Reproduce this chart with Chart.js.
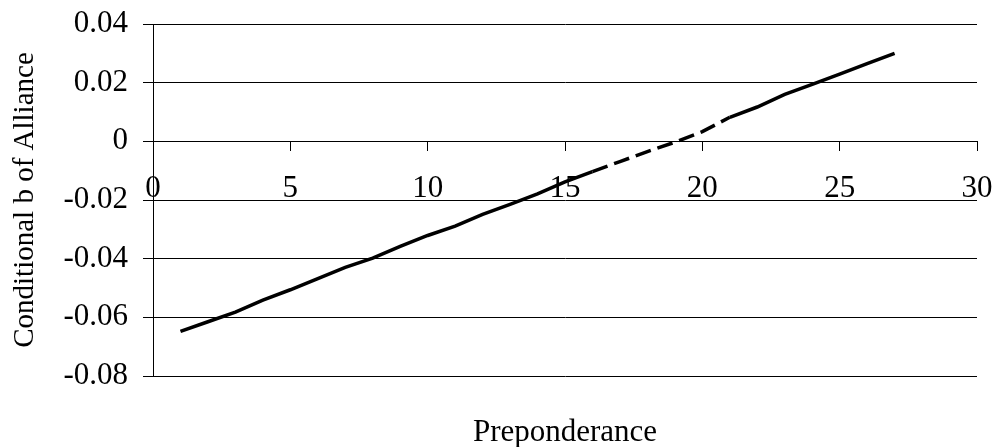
<!DOCTYPE html>
<html>
<head>
<meta charset="utf-8">
<script src="https://cdn.jsdelivr.net/npm/chart.js@4"></script>
<style>
  html, body { margin: 0; padding: 0; background: #fff; }
  #wrap { width: 996px; height: 447px; }
</style>
</head>
<body>
<div id="wrap"><canvas id="prepChart" width="996" height="447"></canvas></div>
<script>
// values
const preponderance = [1, 2, 3, 4, 5, 6, 7, 8, 9, 10, 11, 12, 13, 14, 15, 16, 17, 18, 19, 20, 21, 22, 23, 24, 25, 26, 27];
const condB = [-0.0648, -0.0615, -0.0582, -0.0541, -0.0506, -0.0468, -0.0430, -0.0398, -0.0358, -0.0321, -0.0289, -0.0249,
               -0.0215, -0.0179, -0.0138, -0.0103, -0.0069, -0.0035, -0.0003, 0.0033, 0.0082, 0.0117, 0.0160, 0.0194,
               0.0229, 0.0265, 0.0300];
const dashFrom = 16, dashTo = 21;   // gap segment drawn dashed
const xMin = 0, xMax = 30, xStep = 5;
const yMin = -0.08, yMax = 0.04, yStep = 0.02;

const serif = '"Liberation Serif", "Times New Roman", serif';
const pts = preponderance.map((x, i) => ({ x: x, y: condB[i] }));

function fmtY(v){
    return String(Number(v.toFixed(2)));
}

// keep label overhang from pushing the plot area around
function noPad(s){
    s.paddingTop = 0; s.paddingBottom = 0; s.paddingLeft = 0; s.paddingRight = 0;
}

new Chart(document.getElementById("prepChart").getContext("2d"), {
    type: "line",
    data: { datasets: [{
        data: pts,
        borderColor: "#000",
        borderWidth: 3.5,
        pointRadius: 0,
        tension: 0,
        fill: false,
        segment: {
            borderDash: ctx => (ctx.p0.parsed.x >= dashFrom && ctx.p1.parsed.x <= dashTo) ? [16, 7] : undefined
        }
    }]},
    options: {
        responsive: false,
        animation: false,
        layout: { padding: { top: 24, right: 19, bottom: 0, left: 0 } },
        plugins: { legend: { display: false }, tooltip: { enabled: false } },
        scales: {
            x: {
                type: "linear", position: "bottom", min: xMin, max: xMax,
                grid: { display: false }, border: { display: false },
                ticks: { display: false },
                title: { display: true, text: "Preponderance", color: "#000",
                         font: { family: serif, size: 31, lineHeight: 0.9 }, padding: { top: 0, bottom: 0 } },
                afterFit: s => { s.height = 71; noPad(s); }
            },
            x2: {
                type: "linear", axis: "x", position: { y: 0 }, min: xMin, max: xMax,
                grid: { drawOnChartArea: false, color: "#000", tickLength: 9, lineWidth: 1 },
                border: { display: true, color: "#000", width: 1 },
                ticks: { stepSize: xStep, color: "#000", padding: 20, maxRotation: 0,
                         font: { family: serif, size: 31 } },
                afterFit: s => { s.height = 0; noPad(s); }
            },
            y: {
                type: "linear", position: "left", min: yMin, max: yMax,
                grid: { color: "#000", lineWidth: 1, tickLength: 10 },
                border: { display: true, color: "#000", width: 1 },
                ticks: { stepSize: yStep, color: "#000", padding: 15, callback: v => fmtY(v),
                         font: { family: serif, size: 31 } },
                title: { display: true, text: "Conditional b of Alliance", color: "#000",
                         font: { family: serif, size: 29, lineHeight: 1 }, padding: { top: 11, bottom: 0 } },
                afterFit: s => { s.width = 153; noPad(s); }
            }
        }
    }
});
</script>
</body>
</html>
